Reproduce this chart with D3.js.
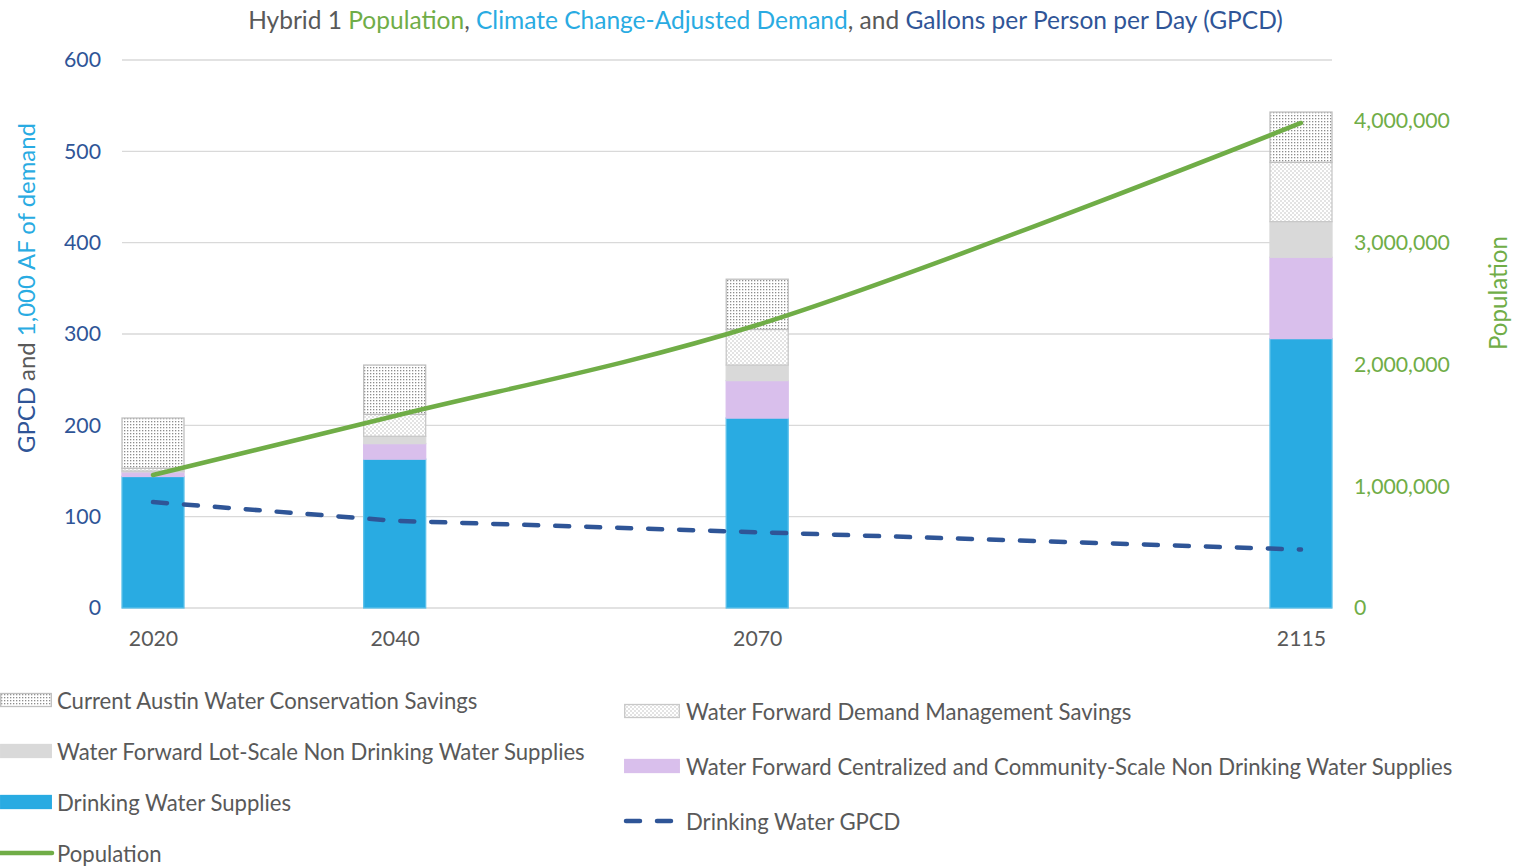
<!DOCTYPE html>
<html><head><meta charset="utf-8">
<script src="https://cdn.jsdelivr.net/npm/d3@7"></script>
<style>body{margin:0;background:#fff}svg{display:block}</style>
</head><body>
<svg id="c" width="1519" height="866"></svg>
<script>
// ---- data ----
const years = [2020, 2040, 2070, 2115];
const drinking = [144, 163, 208, 295];
const centralized = [5, 17, 41, 89];
const lotScale = [1, 8, 17, 39];
const demandMgmt = [3, 24, 39, 65];
const conservation = [55, 54, 55, 55];
const population = [1092000, 1577000, 2324000, 3983000];
const gpcd = [116, 95.5, 83, 64];
const leftTicks = [0, 100, 200, 300, 400, 500, 600];
const rightTicks = [0, 1000000, 2000000, 3000000, 4000000];

const FONT = "Lato, 'Open Sans', sans-serif";
const GRAY = "#595959", GREEN = "#70AD47", CYAN = "#29ABE2", NAVY = "#2F5597";

const svg = d3.select("#c");
const defs = svg.append("defs");
// patterns
const pDots = defs.append("pattern").attr("id","dots").attr("patternUnits","userSpaceOnUse").attr("width",3).attr("height",3);
pDots.append("rect").attr("width",3).attr("height",3).attr("fill","#fff");
pDots.append("rect").attr("x",1).attr("y",1).attr("width",1.3).attr("height",1.3).attr("fill","#8c8c8c");
const pChk = defs.append("pattern").attr("id","chk").attr("patternUnits","userSpaceOnUse").attr("width",4).attr("height",4);
pChk.append("rect").attr("width",4).attr("height",4).attr("fill","#fff");
pChk.append("rect").attr("width",2).attr("height",2).attr("fill","#e3e3e3");
pChk.append("rect").attr("x",2).attr("y",2).attr("width",2).attr("height",2).attr("fill","#e3e3e3");

// measure helper
function fit(text, target){
  const t = svg.append("text").attr("font-family",FONT).attr("font-size",100).text(text);
  const w = t.node().getComputedTextLength(); t.remove();
  return 100*target/w;
}

const L = 122, R = 1332, T = 60, B = 608;
const barW = 62;
const x = d3.scaleLinear().domain([2020, 2115]).range([153, 1301]);
const y = d3.scaleLinear().domain([0, 600]).range([B, T]);
const y2 = d3.scaleLinear().domain([0, 4500000]).range([B, T]);

// gridlines
svg.append("g").selectAll("line").data(leftTicks).join("line")
  .attr("x1",L).attr("x2",R).attr("y1",d=>y(d)).attr("y2",d=>y(d))
  .attr("stroke","#d9d9d9").attr("stroke-width",1.3);

// stacked bars
const series = [
  {key:"Drinking Water Supplies", vals:drinking, fill:CYAN, stroke:"#5bc0ea"},
  {key:"Water Forward Centralized and Community-Scale Non Drinking Water Supplies", vals:centralized, fill:"#D9BFEC", stroke:"#D9BFEC"},
  {key:"Water Forward Lot-Scale Non Drinking Water Supplies", vals:lotScale, fill:"#D9D9D9", stroke:"#D9D9D9"},
  {key:"Water Forward Demand Management Savings", vals:demandMgmt, fill:"url(#chk)", stroke:"#c8c8c8"},
  {key:"Current Austin Water Conservation Savings", vals:conservation, fill:"url(#dots)", stroke:"#bfbfbf"}
];
const table = years.map((yr,i)=>{ const o={year:yr}; series.forEach(s=>o[s.key]=s.vals[i]); return o; });
const stack = d3.stack().keys(series.map(s=>s.key))(table);
const gb = svg.append("g");
stack.forEach((layer, li)=>{
  const s = series[li];
  gb.append("g").selectAll("rect").data(layer).join("rect")
    .attr("x", d=>x(d.data.year)-barW/2)
    .attr("width", barW)
    .attr("y", d=>y(d[1]))
    .attr("height", d=>Math.max(0, y(d[0])-y(d[1])))
    .attr("fill", s.fill)
    .attr("stroke", s.stroke).attr("stroke-width",1.3);
});

// GPCD dashed line
svg.append("path").datum(years.map((yr,i)=>[yr,gpcd[i]]))
  .attr("d", d3.line().x(d=>x(d[0])).y(d=>y(d[1])))
  .attr("fill","none").attr("stroke",NAVY).attr("stroke-width",4.5)
  .attr("stroke-dasharray","14 17").attr("stroke-linecap","round");

// Population line
svg.append("path").datum(years.map((yr,i)=>[yr,population[i]]))
  .attr("d", d3.line().curve(d3.curveCatmullRom.alpha(0.5)).x(d=>x(d[0])).y(d=>y2(d[1])))
  .attr("fill","none").attr("stroke",GREEN).attr("stroke-width",4.5).attr("stroke-linecap","round");

// axes
const tickSize = fit("4,000,000", 96);
const fmt = d3.format(",");
const axL = d3.axisLeft(y).tickValues(leftTicks).tickSize(0).tickPadding(0);
const gL = svg.append("g").attr("transform",`translate(101,0)`).call(axL);
gL.select(".domain").remove();
gL.selectAll("text").attr("fill",NAVY).attr("font-family",FONT).attr("font-size",tickSize);
const axR = d3.axisRight(y2).tickValues(rightTicks).tickFormat(fmt).tickSize(0).tickPadding(0);
const gR = svg.append("g").attr("transform",`translate(1354,0)`).call(axR);
gR.select(".domain").remove();
gR.selectAll("text").attr("fill",GREEN).attr("font-family",FONT).attr("font-size",tickSize);
const axB = d3.axisBottom(x).tickValues(years).tickFormat(d3.format("d")).tickSize(0).tickPadding(0);
const gB = svg.append("g").attr("transform",`translate(0,${B+23})`).call(axB);
gB.select(".domain").remove();
gB.selectAll("text").attr("fill",GRAY).attr("font-family",FONT).attr("font-size",tickSize);

// title
const titleParts = [["Hybrid 1 ",GRAY],["Population",GREEN],[", ",GRAY],["Climate Change-Adjusted Demand",CYAN],[", and ",GRAY],["Gallons per Person per Day (GPCD)",NAVY]];
const titleSize = fit(titleParts.map(p=>p[0]).join(""), 1035);
const tt = svg.append("text").attr("x",765.5).attr("y",19).attr("text-anchor","middle").attr("dominant-baseline","central")
  .attr("font-family",FONT).attr("font-size",titleSize).attr("xml:space","preserve");
titleParts.forEach(p=>tt.append("tspan").attr("fill",p[1]).text(p[0]));

// left axis title
const lParts = [["GPCD",NAVY],[" and ",GRAY],["1,000 AF of demand",CYAN]];
const lSize = fit(lParts.map(p=>p[0]).join(""), 330);
const lt = svg.append("text").attr("transform","translate(25,288) rotate(-90)").attr("text-anchor","middle").attr("dominant-baseline","central")
  .attr("font-family",FONT).attr("font-size",lSize).attr("xml:space","preserve");
lParts.forEach(p=>lt.append("tspan").attr("fill",p[1]).text(p[0]));

// right axis title
svg.append("text").attr("transform","translate(1497,293) rotate(-90)").attr("text-anchor","middle").attr("dominant-baseline","central")
  .attr("font-family",FONT).attr("font-size",fit("Population",114)).attr("fill",GREEN).text("Population");

// legend
const legSize = fit("Water Forward Centralized and Community-Scale Non Drinking Water Supplies", 767);
const legend = [
  {label:"Current Austin Water Conservation Savings", type:"rect", fill:"url(#dots)", stroke:"#bfbfbf", sx:0, sw:52, tx:57, ty:700},
  {label:"Water Forward Lot-Scale Non Drinking Water Supplies", type:"rect", fill:"#D9D9D9", stroke:"#D9D9D9", sx:0, sw:52, tx:57, ty:751},
  {label:"Drinking Water Supplies", type:"rect", fill:CYAN, stroke:CYAN, sx:0, sw:52, tx:57, ty:802},
  {label:"Population", type:"line", stroke:GREEN, sx:0, sw:52, tx:57, ty:853},
  {label:"Water Forward Demand Management Savings", type:"rect", fill:"url(#chk)", stroke:"#c8c8c8", sx:624, sw:56, tx:686, ty:711},
  {label:"Water Forward Centralized and Community-Scale Non Drinking Water Supplies", type:"rect", fill:"#D9BFEC", stroke:"#D9BFEC", sx:624, sw:56, tx:686, ty:766},
  {label:"Drinking Water GPCD", type:"dash", stroke:NAVY, sx:624, sw:56, tx:686, ty:821}
];
const gLeg = svg.append("g");
legend.forEach(d=>{
  if(d.type==="rect"){
    gLeg.append("rect").attr("x",d.sx+0.7).attr("y",d.ty-6.5).attr("width",d.sw-1.4).attr("height",13)
      .attr("fill",d.fill).attr("stroke",d.stroke).attr("stroke-width",1.3);
  } else if(d.type==="line"){
    gLeg.append("line").attr("x1",d.sx).attr("x2",d.sx+d.sw).attr("y1",d.ty).attr("y2",d.ty)
      .attr("stroke",d.stroke).attr("stroke-width",4.5).attr("stroke-linecap","round");
  } else {
    gLeg.append("line").attr("x1",d.sx+2).attr("x2",d.sx+d.sw).attr("y1",d.ty).attr("y2",d.ty)
      .attr("stroke",d.stroke).attr("stroke-width",4.5).attr("stroke-linecap","round").attr("stroke-dasharray","14 17");
  }
  gLeg.append("text").attr("x",d.tx).attr("y",d.ty).attr("dominant-baseline","central")
    .attr("font-family",FONT).attr("font-size",legSize).attr("fill",GRAY).text(d.label);
});
</script>
</body></html>
